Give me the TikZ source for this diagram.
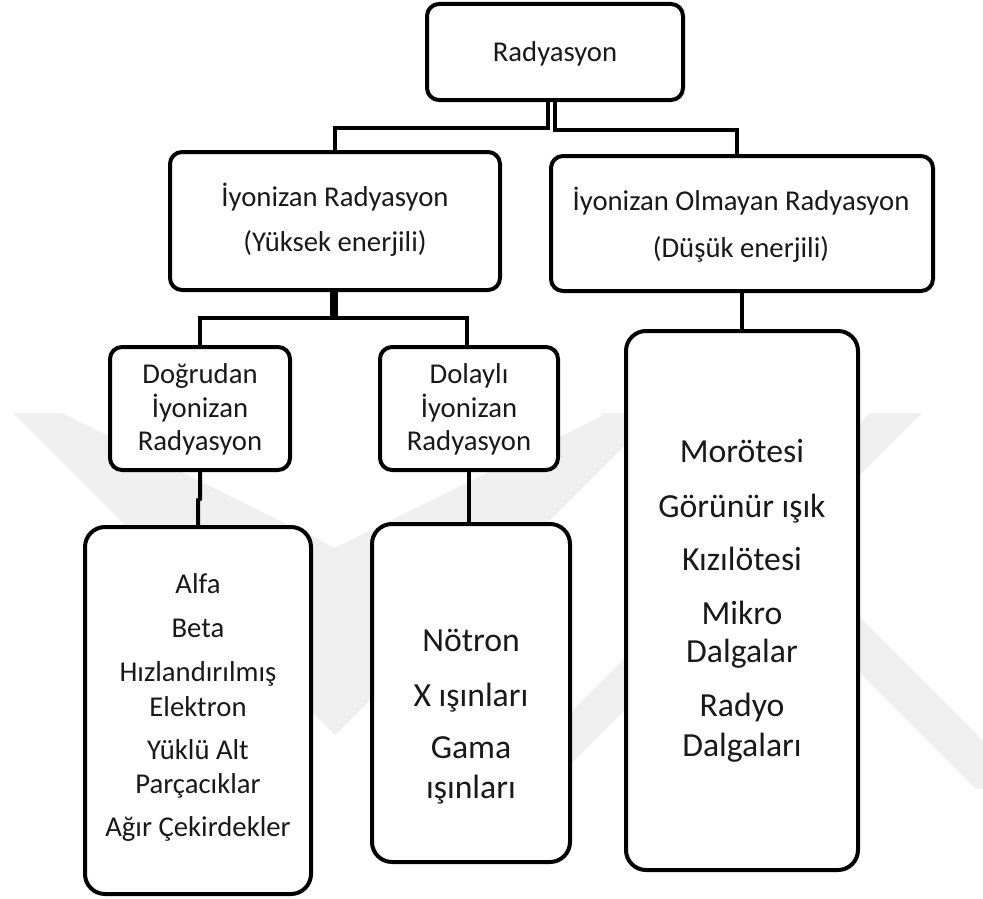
\documentclass[tikz,border=0pt]{standalone}
\usepackage{fontspec}
\setmainfont{Carlito}
\usetikzlibrary{calc}
\definecolor{wm}{RGB}{239,239,239}
\tikzset{
  boxnode/.style={draw=black, line width=4pt, fill=white, inner sep=0pt, rounded corners=12pt},
  tallbox/.style={boxnode, rounded corners=20pt},
  conn/.style={draw=black, line width=4pt},
  smalltxt/.style={anchor=base, inner sep=0pt, text=black!90, font=\fontsize{28.7}{34}\selectfont},
  bigtxt/.style={anchor=base, inner sep=0pt, text=black!90, font=\fontsize{33.7}{40}\selectfont},
  wmark/.style={fill=wm, draw=none},
}
\begin{document}
\begin{tikzpicture}[x=1pt,y=-1pt]
\useasboundingbox (0,0) rectangle (983,899);
\fill[white] (0,0) rectangle (983,899);

% faint watermark
\fill[wmark] (13,413) -- (62,413) -- (335,548) -- (608,413) -- (657,413) -- (335,735) -- cycle;
\fill[wmark] (600,413) -- (655,413) -- (983,741) -- (983,788) -- (975,788) -- cycle;
\fill[wmark] (870,413) -- (922,413) -- (547,788) -- (495,788) -- cycle;

% boxes
\node[boxnode, minimum width=256pt, minimum height=96pt] (rad) at (555,52) {};
\node[boxnode, minimum width=330pt, minimum height=138pt] (ion) at (335,221) {};
\node[boxnode, minimum width=382pt, minimum height=135pt] (non) at (742,223.5) {};
\node[boxnode, minimum width=180pt, minimum height=123pt] (dog) at (200,408.5) {};
\node[boxnode, minimum width=178pt, minimum height=123pt] (dol) at (469,408.5) {};
\node[tallbox, minimum width=226pt, minimum height=367pt] (alfa) at (198,710.5) {};
\node[tallbox, minimum width=198pt, minimum height=338pt] (not) at (471,693) {};
\node[tallbox, minimum width=232pt, minimum height=539pt] (mor) at (742,600.5) {};

% connectors
\draw[conn] ([xshift=-7pt]rad.south) -- ++(0,26) -| (ion.north);
\draw[conn] (rad.south) -- ++(0,28) -| ([xshift=-5pt]non.north);
\draw[conn] ([xshift=-3.5pt]ion.south) -- ++(0,26) -| (dog.north);
\draw[conn] ([xshift=0.5pt]ion.south) -- ++(0,26) -| ([xshift=-2pt]dol.north);
\draw[conn] (dog.south) -- ++(0,27) -- ([yshift=25pt]alfa.north) -- (alfa.north);
\draw[conn] (dol.south) -- (dol.south |- not.north);
\draw[conn] (non.south) -- (mor.north);

% texts
\node[smalltxt] (radT) at (555,62) {Radyasyon};
\node[smalltxt] (ionT1) at (335,206) {İyonizan Radyasyon};
\node[smalltxt] (ionT2) at (335,251) {(Yüksek enerjili)};
\node[smalltxt] (nonT1) at (741,210) {İyonizan Olmayan Radyasyon};
\node[smalltxt] (nonT2) at (741,257) {(Düşük enerjili)};

\foreach \t/\y [count=\i] in {Doğrudan/383, İyonizan/417, Radyasyon/450}
  \node[smalltxt] (dogT\i) at (200,\y) {\t};
\foreach \t/\y [count=\i] in {Dolaylı/383, İyonizan/417, Radyasyon/450}
  \node[smalltxt] (dolT\i) at (469,\y) {\t};
\foreach \t/\y [count=\i] in {Alfa/593, Beta/637, Hızlandırılmış/681, Elektron/716, Yüklü Alt/759, Parçacıklar/793, Ağır Çekirdekler/836}
  \node[smalltxt] (alfaT\i) at (198,\y) {\t};
\foreach \t/\y [count=\i] in {Nötron/651, X ışınları/706, Gama/758, ışınları/798}
  \node[bigtxt] (notT\i) at (471,\y) {\t};
\foreach \t/\y [count=\i] in {Morötesi/462, Görünür ışık/517, Kızılötesi/570.5, Mikro/624, Dalgalar/662, Radyo/716.5, Dalgaları/756}
  \node[bigtxt] (morT\i) at (742,\y) {\t};
\end{tikzpicture}
\end{document}
